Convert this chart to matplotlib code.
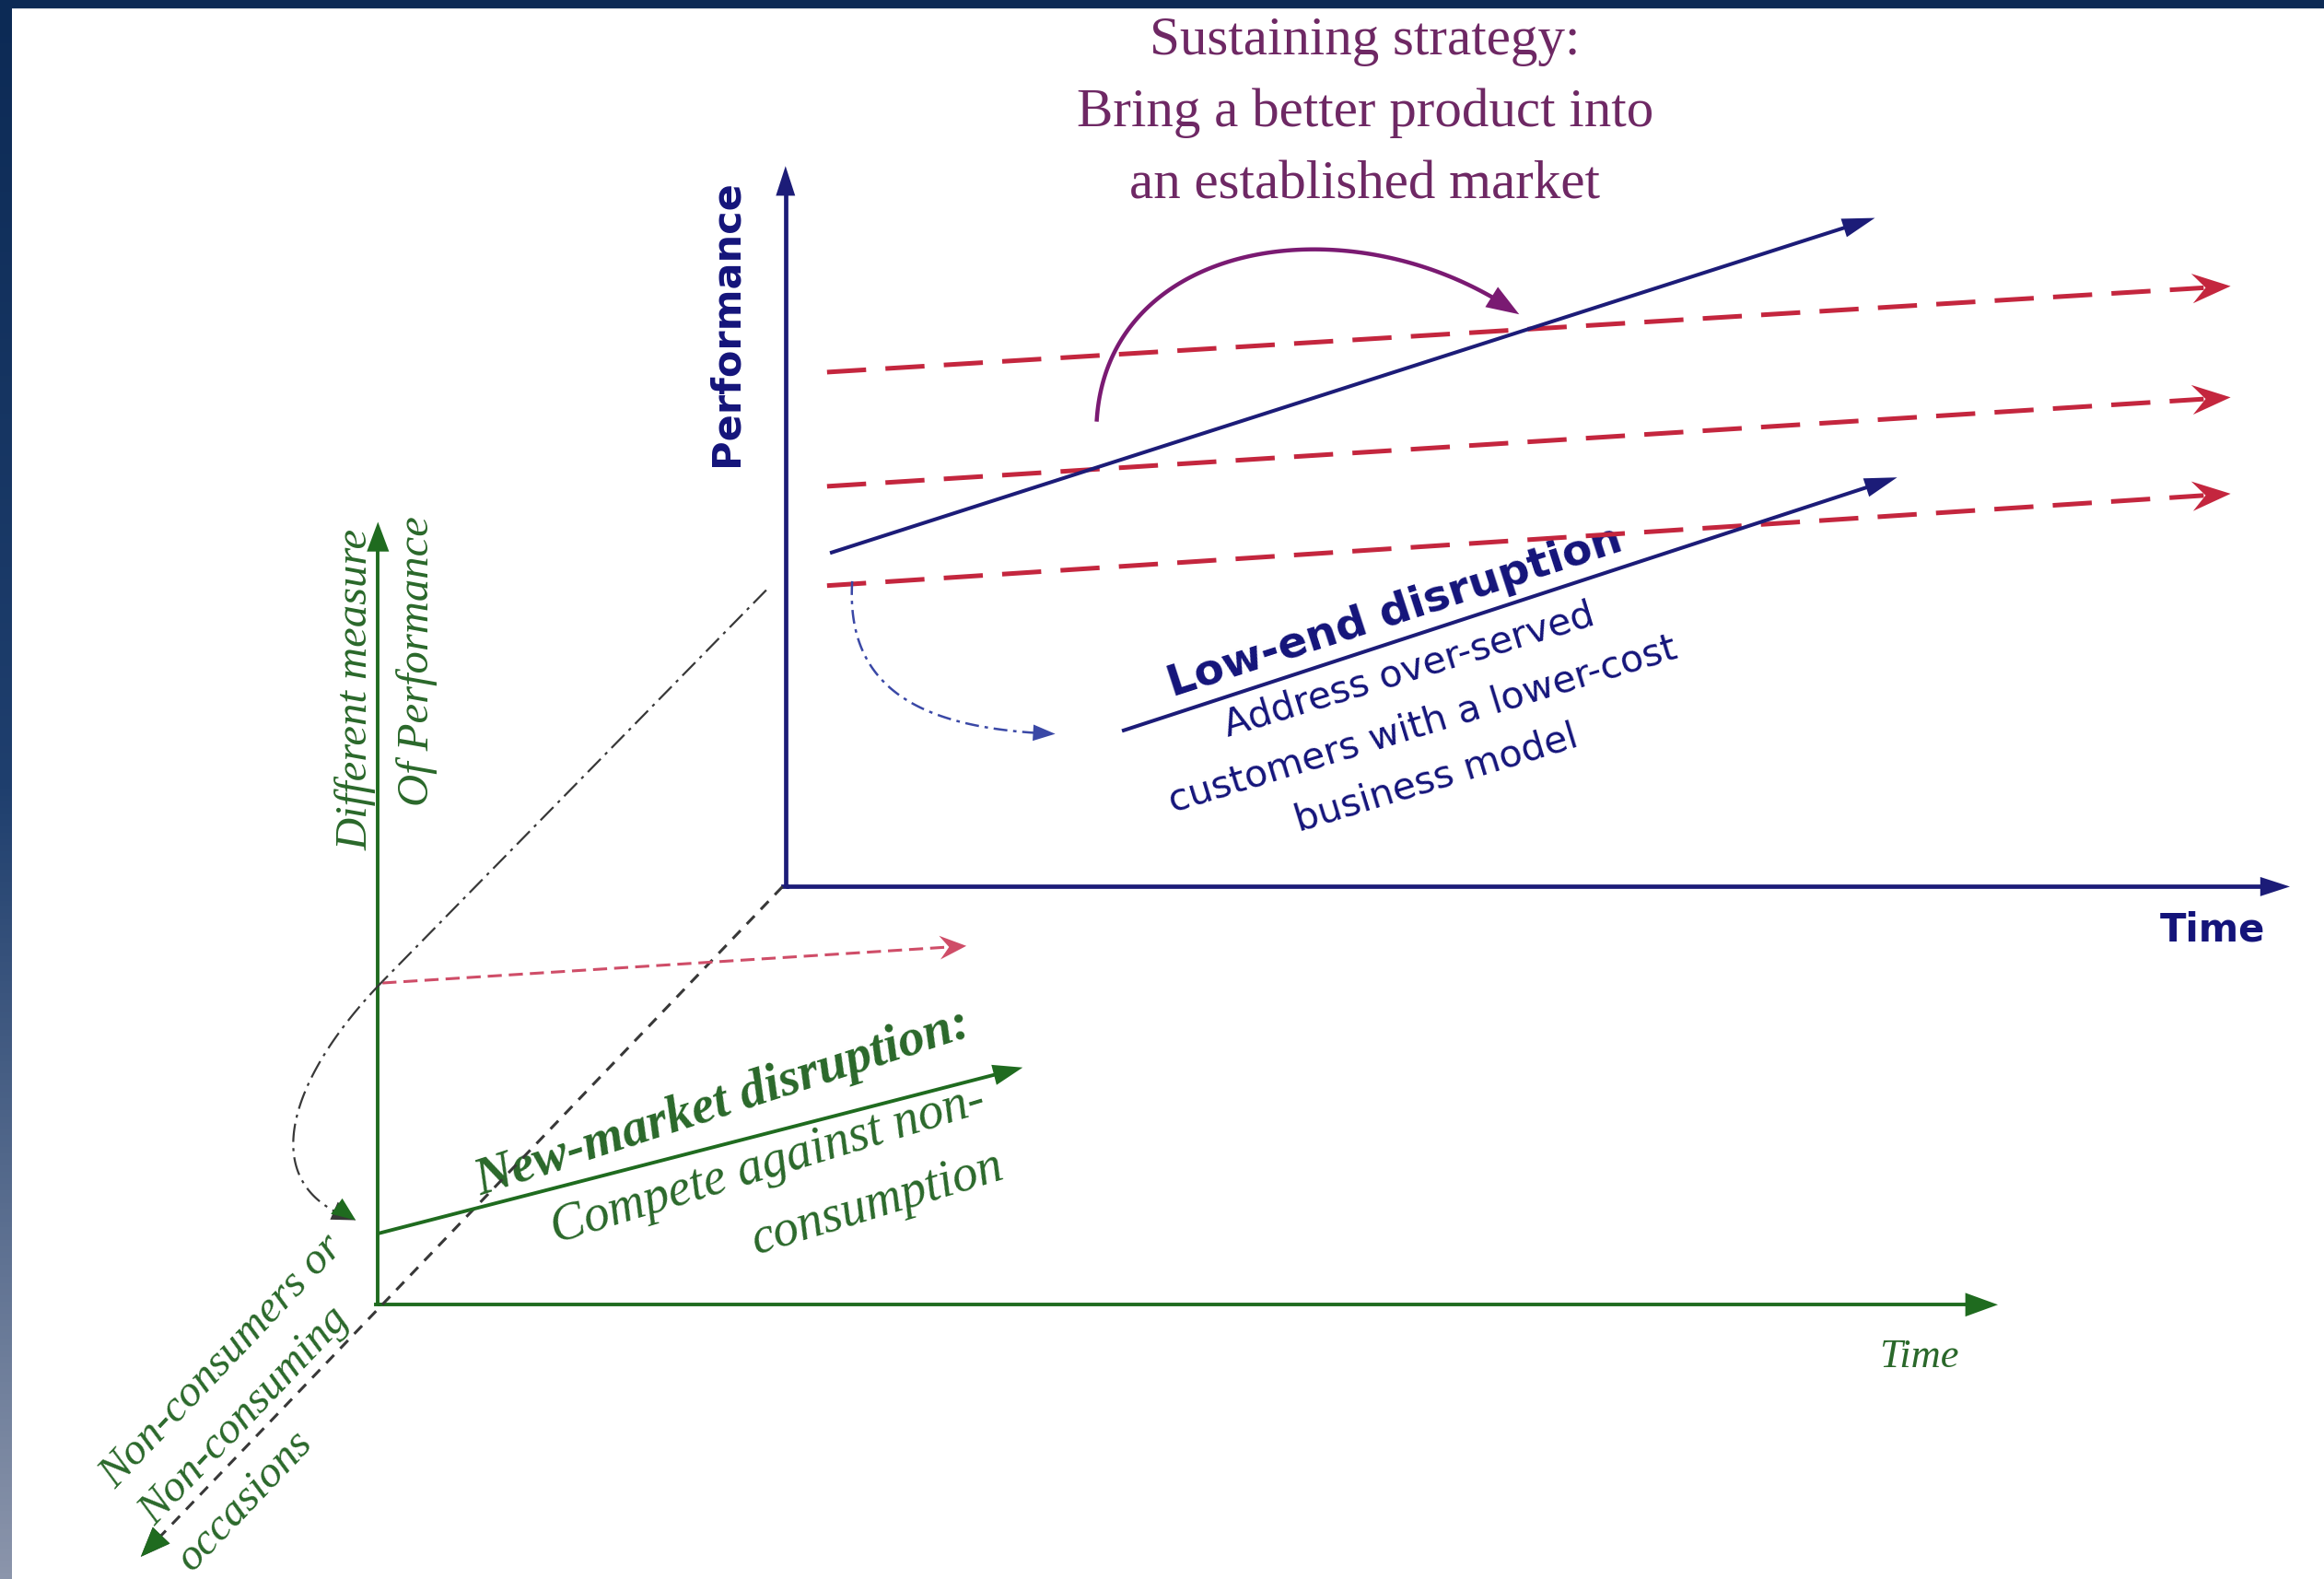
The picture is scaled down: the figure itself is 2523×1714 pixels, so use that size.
import numpy as np
import matplotlib
matplotlib.use("Agg")
import matplotlib.pyplot as plt
from matplotlib.colors import LinearSegmentedColormap

# ---------------- data (diagram coordinates, y grows downward) ----------------
# upper (established market) chart
upper_origin = (530, 598)
upper_perf_top = 112
upper_time_end = 1545
sustaining_x = [560, 1265]
sustaining_y = [373, 147]
lowend_x = [757, 1280]
lowend_y = [493, 322]
incumbent_x = [558, 1505]
incumbent_start_y = [251, 328, 395]
incumbent_end_y = [193, 268, 333]

# lower (new market) chart
lower_origin = (255, 880)
lower_perf_top = 352
lower_time_end = 1348
newmarket_x = [255, 690]
newmarket_y = [832, 720]
lower_red_x = [258, 652]
lower_red_y = [663, 638]
depth_x = [528, 95]
depth_y = [598, 1050]

# curved arrows (control points of cubic curves)
sustain_curve = [(740, 283), (748, 160), (915, 135), (1025, 212)]
lowend_curve = [(575, 392), (570, 470), (630, 492), (712, 495)]
newmkt_link = [(517, 398), (258, 662)]
newmkt_curve = [(258, 662), (195, 727), (170, 800), (240, 823)]

# texts
sustain_lines = ["Sustaining strategy:", "Bring a better product into", "an established market"]
lowend_title = "Low-end disruption"
lowend_lines = ["Address over-served", "customers with a lower-cost", "business model"]
newmkt_title = "New-market disruption:"
newmkt_lines = ["Compete against non-", "consumption"]
noncons_lines = ["Non-consumers or", "Non-consuming", "occasions"]

# ---------------- style ----------------
NAVY = "#1c1c78"
NAVY_TXT = "#14147a"
RED = "#c4263e"
PINK = "#cf4d68"
PURPLE_TXT = "#6e2864"
PURPLE = "#7a1a72"
BLUE_DD = "#3a48a6"
GREEN = "#1f6b1f"
GREEN_TXT = "#2a682a"
GRAY = "#383838"

W, H = 1568, 1065
fig = plt.figure(figsize=(25.23, 17.14), dpi=100)
fig.patch.set_facecolor("white")
ax = fig.add_axes([0, 0, 1, 1])
ax.set_xlim(0, W)
ax.set_ylim(H, 0)
ax.axis("off")

# frame: top navy strip and left gradient strip
ax.add_patch(plt.Rectangle((0, 0), W, 5, color="#0c2a55", zorder=1))
grad = np.linspace(0, 1, 256)[:, None]
cm = LinearSegmentedColormap.from_list("edge", ["#0c2a55", "#1f3f6e", "#8b95ab"])
ax.imshow(grad, cmap=cm, extent=(0, 8, H, 0), aspect="auto", zorder=1)
ax.set_xlim(0, W)
ax.set_ylim(H, 0)


def head(tip, tail, L, Wd, color, notch=0.0, z=5):
    tip = np.array(tip, float)
    d = tip - np.array(tail, float)
    d /= np.hypot(*d)
    n = np.array([-d[1], d[0]])
    base = tip - d * L
    pts = np.array([tip, base + n * Wd / 2, tip - d * L * (1 - notch), base - n * Wd / 2])
    ax.fill(pts[:, 0], pts[:, 1], color=color, lw=0, zorder=z)


def arrow_line(xs, ys, color, lw, L, Wd, ls="-", notch=0.0, z=4):
    tip = np.array([xs[1], ys[1]], float)
    tail = np.array([xs[0], ys[0]], float)
    d = (tip - tail) / np.hypot(*(tip - tail))
    end = tip - d * L * 0.7
    ax.plot([tail[0], end[0]], [tail[1], end[1]], color=color, lw=lw,
            linestyle=ls, solid_capstyle="butt", dash_capstyle="butt", zorder=z)
    head(tip, tail, L, Wd, color, notch, z + 1)


def curve(pts, color, lw, ls, L, Wd):
    p0, p1, p2, p3 = np.array(pts, float)
    t = np.linspace(0, 1, 120)[:, None]
    c = ((1 - t) ** 3) * p0 + 3 * ((1 - t) ** 2) * t * p1 + 3 * (1 - t) * t ** 2 * p2 + t ** 3 * p3
    tip = c[-1]
    dist = np.hypot(*(c - tip).T)
    keep = dist > L * 0.6
    ax.plot(c[keep, 0], c[keep, 1], color=color, lw=lw, linestyle=ls, zorder=4)
    idx = np.argmax(dist < L)
    head(tip, c[max(idx - 1, 0)], L, Wd, color, 0.0, 5)


# ---------------- upper chart ----------------
ox, oy = upper_origin
arrow_line([ox, ox], [oy, upper_perf_top], NAVY, 3.4, 20, 13)
arrow_line([ox, upper_time_end], [oy, oy], NAVY, 3.4, 20, 13)
ax.plot([ox - 1.5, ox + 1], [oy, oy], color=NAVY, lw=3.4)

for ys, ye in zip(incumbent_start_y, incumbent_end_y):
    arrow_line(incumbent_x, [ys, ye], RED, 3.6, 26, 20, ls=(0, (8.5, 4.2)), notch=0.35)

arrow_line(sustaining_x, sustaining_y, NAVY, 2.9, 22, 13)
arrow_line(lowend_x, lowend_y, NAVY, 2.9, 22, 13)

curve(sustain_curve, PURPLE, 3.2, "-", 22, 16)
curve(lowend_curve, BLUE_DD, 1.8, (0, (6, 2.5, 1.5, 2.5)), 15, 11)

ax.text(490, 218, "Performance", rotation=90, ha="center", va="center",
        fontsize=31, fontweight="bold", family="DejaVu Sans", color=NAVY_TXT)
ax.text(1493, 627, "Time", ha="center", va="center",
        fontsize=30, fontweight="bold", family="DejaVu Sans", color=NAVY_TXT)

for i, s in enumerate(sustain_lines):
    ax.text(921, 28 + 48.5 * i, s, ha="center", va="center", fontsize=42.5,
            family="Liberation Serif", color=PURPLE_TXT)

ax.text(941, 413, lowend_title, rotation=18, rotation_mode="anchor", ha="center",
        va="center", fontsize=34, fontweight="bold", family="DejaVu Sans", color=NAVY_TXT)
low_centers = [(951, 452), (960, 489), (969, 525)]
for (cx, cy), s in zip(low_centers, lowend_lines):
    ax.text(cx, cy, s, rotation=17, rotation_mode="anchor", ha="center", va="center",
            fontsize=29.5, family="DejaVu Sans", color=NAVY_TXT)

# ---------------- lower chart ----------------
lx, ly = lower_origin
arrow_line([lx, lx], [ly, lower_perf_top], GREEN, 2.8, 20, 15)
arrow_line([lx, lower_time_end], [ly, ly], GREEN, 2.8, 22, 16)
ax.plot([lx - 1.2, lx + 1], [ly, ly], color=GREEN, lw=2.8)

arrow_line(depth_x, depth_y, GRAY, 2.2, 20, 16, ls=(0, (4, 3.2)))
head((depth_x[1], depth_y[1]), (depth_x[0], depth_y[0]), 20, 16, GREEN, 0.0, 6)

arrow_line(newmarket_x, newmarket_y, GREEN, 2.8, 20, 14)
arrow_line(lower_red_x, lower_red_y, PINK, 2.2, 18, 16, ls=(0, (5, 2.5)), notch=0.35)

ax.plot([newmkt_link[0][0], newmkt_link[1][0]], [newmkt_link[0][1], newmkt_link[1][1]],
        color=GRAY, lw=1.6, linestyle=(0, (9, 3, 1.5, 3)), zorder=4)
curve(newmkt_curve, GRAY, 1.6, (0, (9, 3, 1.5, 3)), 16, 13)
head(newmkt_curve[-1], (225, 812), 16, 13, GREEN, 0.0, 6)

ax.text(240, 465, "Different measure", rotation=90, ha="center", va="center",
        fontsize=35, style="italic", family="Liberation Serif", color=GREEN_TXT)
ax.text(281, 446, "Of Performance", rotation=90, ha="center", va="center",
        fontsize=35, style="italic", family="Liberation Serif", color=GREEN_TXT)
ax.text(1295, 915, "Time", ha="center", va="center",
        fontsize=32, style="italic", family="Liberation Serif", color=GREEN_TXT)

ax.text(488, 744, newmkt_title, rotation=18, rotation_mode="anchor", ha="center",
        va="center", fontsize=41, style="italic", fontweight="bold",
        family="Liberation Serif", color=GREEN_TXT)
nm_centers = [(518, 786), (592, 812)]
for (cx, cy), s in zip(nm_centers, newmkt_lines):
    ax.text(cx, cy, s, rotation=17, rotation_mode="anchor", ha="center", va="center",
            fontsize=40, style="italic", family="Liberation Serif", color=GREEN_TXT)

nc_centers = [(150, 918), (165, 955), (165, 1012)]
for (cx, cy), s in zip(nc_centers, noncons_lines):
    ax.text(cx, cy, s, rotation=46.5, rotation_mode="anchor", ha="center", va="center",
            fontsize=35, style="italic", family="Liberation Serif", color=GREEN_TXT)

fig.savefig("out.png", dpi=100, facecolor="white")
